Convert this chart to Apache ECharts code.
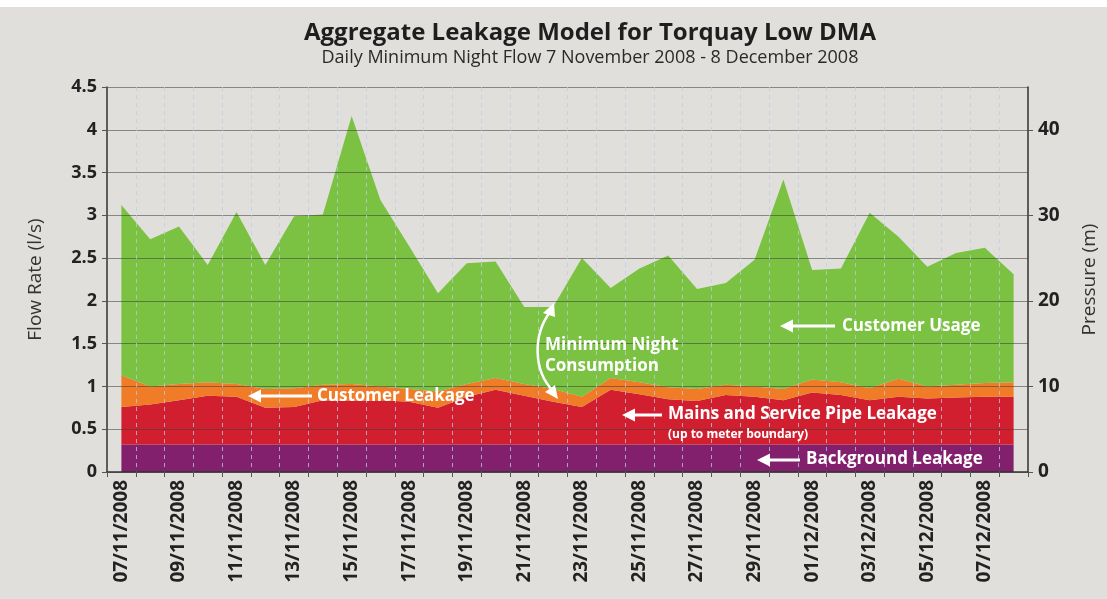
<!DOCTYPE html>
<html>
<head>
<meta charset="utf-8">
<script src="https://cdn.jsdelivr.net/npm/echarts@6/dist/echarts.min.js"></script>
<style>
  html, body { margin:0; padding:0; background:#fff; }
  #chart { width:1107px; height:599px; }
</style>
</head>
<body>
<div id="chart"></div>
<script type="text/javascript">
  // dates, one per night
  var dates = ['07/11/2008','08/11/2008','09/11/2008','10/11/2008','11/11/2008','12/11/2008','13/11/2008','14/11/2008',
               '15/11/2008','16/11/2008','17/11/2008','18/11/2008','19/11/2008','20/11/2008','21/11/2008','22/11/2008',
               '23/11/2008','24/11/2008','25/11/2008','26/11/2008','27/11/2008','28/11/2008','29/11/2008','30/11/2008',
               '01/12/2008','02/12/2008','03/12/2008','04/12/2008','05/12/2008','06/12/2008','07/12/2008','08/12/2008'];
  // flow rate layers (l/s), stacked bottom to top
  var backgroundLeak = [0.32,0.32,0.32,0.32,0.32,0.32,0.32,0.32,0.32,0.32,0.32,0.32,0.32,0.32,0.32,0.32,
                        0.32,0.32,0.32,0.32,0.32,0.32,0.32,0.32,0.32,0.32,0.32,0.32,0.32,0.32,0.32,0.32];
  var mainsLeak = [0.44,0.47,0.52,0.57,0.56,0.43,0.44,0.52,0.51,0.52,0.50,0.43,0.56,0.64,0.57,0.50,
                   0.44,0.64,0.59,0.53,0.51,0.58,0.56,0.52,0.61,0.58,0.52,0.56,0.54,0.55,0.56,0.56];
  var customerLeak = [0.37,0.21,0.19,0.16,0.15,0.22,0.22,0.18,0.20,0.16,0.15,0.19,0.15,0.14,0.14,0.15,
                      0.12,0.14,0.14,0.14,0.14,0.12,0.12,0.13,0.15,0.15,0.14,0.21,0.14,0.15,0.16,0.17];
  var customerUsage = [1.99,1.72,1.84,1.37,2.01,1.45,2.01,1.99,3.13,2.18,1.67,1.15,1.41,1.36,0.90,0.96,
                       1.62,1.05,1.33,1.54,1.17,1.19,1.48,2.45,1.28,1.33,2.05,1.66,1.40,1.54,1.58,1.26];

  var font = '"Open Sans", "DejaVu Sans", sans-serif';

  // white arrow pointing left
  function arrow(tip, tail, y) {
    return [
      { type:'line', z:20, shape:{x1:tip+10, y1:y, x2:tail, y2:y}, style:{stroke:'#fff', lineWidth:3} },
      { type:'polygon', z:20, shape:{points:[[tip,y],[tip+13,y-6.5],[tip+13,y+6.5]]}, style:{fill:'#fff'} }
    ];
  }
  function label(x, y, text, size) {
    return { type:'text', z:20, x:x, y:y,
             style:{text:text, fill:'#fff', font:'bold ' + (size || 17) + 'px ' + font, textVerticalAlign:'middle'} };
  }

  var marks = [].concat(
    arrow(248, 312, 396), [label(317, 396, 'Customer Leakage')],
    arrow(780, 835, 326), [label(842, 326, 'Customer Usage')],
    arrow(622, 662, 415), [label(668, 414, 'Mains and Service Pipe Leakage'), label(668, 435, '(up to meter boundary)', 12)],
    arrow(757, 800, 460), [label(806, 459, 'Background Leakage')],
    [label(545, 345, 'Minimum Night'), label(545, 366, 'Consumption'),
     { type:'bezierCurve', z:20, shape:{x1:550, y1:312, cpx1:533, cpy1:335, cpx2:533, cpy2:370, x2:553, y2:391},
       style:{stroke:'#fff', lineWidth:2.5, fill:null} },
     { type:'polygon', z:20, shape:{points:[[554,303],[543,313],[555,317]]}, style:{fill:'#fff'} },
     { type:'polygon', z:20, shape:{points:[[558,399],[545,392],[555,385]]}, style:{fill:'#fff'} },
     { type:'rect', z:30, shape:{x:0, y:0, width:1107, height:7}, style:{fill:'#fff'} }]
  );

  var myChart = echarts.init(document.getElementById('chart'));
  myChart.setOption({
    backgroundColor: '#e1dfdc',
    animation: false,
    title: {
      text: 'Aggregate Leakage Model for Torquay Low DMA',
      subtext: 'Daily Minimum Night Flow 7 November 2008 - 8 December 2008',
      left: 585, top: 16, textAlign: 'center', itemGap: 4,
      textStyle: { fontFamily: font, fontWeight: 'bold', fontSize: 24, color: '#1e1e1e' },
      subtextStyle: { fontFamily: font, fontSize: 18, color: '#2a2a2a' }
    },
    grid: { left: 107, right: 72, top: 87, bottom: 127 },
    xAxis: {
      type: 'category',
      data: dates,
      boundaryGap: true,
      z: 10,
      axisLine: { lineStyle: { color: '#333', width: 1.5 } },
      axisTick: { show: true, interval: 0, length: 5, lineStyle: { color: '#555' } },
      axisLabel: { interval: 1, rotate: 90, margin: 8, color: '#222', fontFamily: font, fontWeight: 'bold', fontSize: 19 },
      splitLine: { show: true, interval: 0, lineStyle: { color: 'rgba(185,205,228,0.75)', type: [4, 4], width: 1 } }
    },
    yAxis: [
      {
        type: 'value', min: 0, max: 4.5, interval: 0.5,
        name: 'Flow Rate (l/s)', nameLocation: 'middle', nameGap: 62, nameRotate: 90,
        nameTextStyle: { fontFamily: font, fontSize: 19, color: '#333' },
        z: 10,
        axisLine: { show: true, lineStyle: { color: '#333', width: 1.5 } },
        axisTick: { show: true, length: 5, lineStyle: { color: '#555' } },
        axisLabel: { color: '#222', fontFamily: font, fontWeight: 'bold', fontSize: 18, margin: 10 },
        splitLine: { show: true, lineStyle: { color: 'rgba(60,60,60,0.55)', width: 1 } }
      },
      {
        type: 'value', min: 0, max: 45, interval: 10, position: 'right',
        name: 'Pressure (m)', nameLocation: 'middle', nameGap: 52, nameRotate: 90,
        nameTextStyle: { fontFamily: font, fontSize: 19, color: '#333' },
        z: 10,
        axisLine: { show: true, lineStyle: { color: '#333', width: 1.5 } },
        axisTick: { show: true, length: 5, lineStyle: { color: '#555' } },
        axisLabel: { color: '#222', fontFamily: font, fontWeight: 'bold', fontSize: 19, margin: 10, showMaxLabel: false },
        splitLine: { show: false }
      }
    ],
    series: [
      { name: 'Background Leakage', type: 'line', stack: 'flow', data: backgroundLeak,
        symbol: 'none', lineStyle: { width: 0 }, areaStyle: { color: '#82206e', opacity: 1 }, itemStyle: { color: '#82206e' } },
      { name: 'Mains and Service Pipe Leakage', type: 'line', stack: 'flow', data: mainsLeak,
        symbol: 'none', lineStyle: { width: 0 }, areaStyle: { color: '#d21f30', opacity: 1 }, itemStyle: { color: '#d21f30' } },
      { name: 'Customer Leakage', type: 'line', stack: 'flow', data: customerLeak,
        symbol: 'none', lineStyle: { width: 0 }, areaStyle: { color: '#f07c28', opacity: 1 }, itemStyle: { color: '#f07c28' } },
      { name: 'Customer Usage', type: 'line', stack: 'flow', data: customerUsage,
        symbol: 'none', lineStyle: { width: 0 }, areaStyle: { color: '#7cc242', opacity: 1 }, itemStyle: { color: '#7cc242' } }
    ],
    graphic: marks
  });
</script>
</body>
</html>
